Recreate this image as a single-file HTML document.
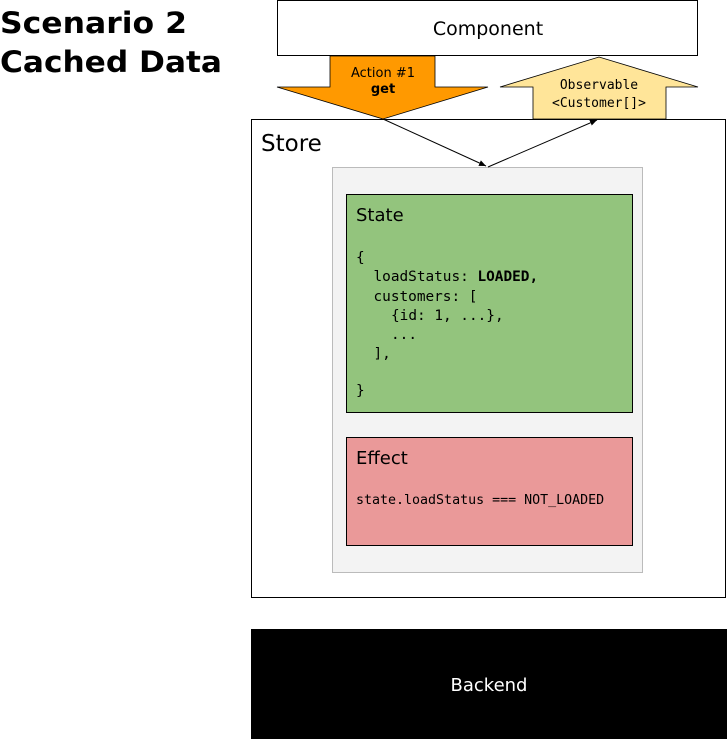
<!DOCTYPE html>
<html><head><style>body{margin:0;background:#fff}</style></head><body>
<svg width="727" height="739" xmlns="http://www.w3.org/2000/svg" style="display:block">
<defs><marker id="a" markerWidth="8" markerHeight="8" refX="7" refY="3" orient="auto" markerUnits="userSpaceOnUse"><path d="M0,0 L7,3 L0,6 z" fill="#000"/></marker></defs>
<g font-family="DejaVu Sans, Liberation Sans, sans-serif">
<text x="0" y="33" font-size="29" font-weight="bold" textLength="187" lengthAdjust="spacingAndGlyphs">Scenario 2</text>
<text x="0" y="72" font-size="29" font-weight="bold" textLength="222" lengthAdjust="spacingAndGlyphs">Cached Data</text>
<rect x="277.5" y="0.5" width="420" height="55" fill="#fff" stroke="#000"/>
<text x="488" y="35" font-size="19" text-anchor="middle">Component</text>
<rect x="251.5" y="119.5" width="474" height="478" fill="#fff" stroke="#000"/>
<text x="261" y="151" font-size="23">Store</text>
<path d="M330,56 H435 V87 H488 L383,119 L277,87 H330 Z" fill="#f90" stroke="#000" stroke-width="0.8"/>
<text x="383" y="77" font-size="13" text-anchor="middle">Action #1</text>
<text x="383" y="93" font-size="13" font-weight="bold" text-anchor="middle">get</text>
<path d="M533,119 V87 H500 L599,57 L698,87 H666 V119 Z" fill="#ffe599" stroke="#000" stroke-width="0.8"/>
<text x="599" y="89" font-size="13" font-family="DejaVu Sans Mono, Liberation Mono, monospace" text-anchor="middle">Observable</text>
<text x="599" y="107" font-size="13" font-family="DejaVu Sans Mono, Liberation Mono, monospace" text-anchor="middle">&lt;Customer[]&gt;</text>
<rect x="332.5" y="167.5" width="310" height="405" fill="#f3f3f3" stroke="#bbb"/>
<line x1="383" y1="119" x2="486" y2="166" stroke="#000" marker-end="url(#a)"/>
<line x1="488" y1="167" x2="597" y2="120" stroke="#000" marker-end="url(#a)"/>
<rect x="346.5" y="194.5" width="286" height="218" fill="#93c47d" stroke="#000"/>
<text x="356" y="221" font-size="18">State</text>
<g font-family="DejaVu Sans Mono, Liberation Mono, monospace" font-size="14.4">
<text x="356" y="262">{</text>
<text x="373.5" y="281">loadStatus: <tspan font-weight="bold">LOADED,</tspan></text>
<text x="373.5" y="301">customers: [</text>
<text x="391" y="320">{id: 1, ...},</text>
<text x="391" y="339">...</text>
<text x="373.5" y="358">],</text>
<text x="356" y="395">}</text>
</g>
<rect x="346.5" y="437.5" width="286" height="108" fill="#ea9999" stroke="#000"/>
<text x="356" y="464" font-size="18">Effect</text>
<text x="356" y="504" font-size="13.3" font-family="DejaVu Sans Mono, Liberation Mono, monospace">state.loadStatus === NOT_LOADED</text>
<rect x="251" y="629" width="476" height="110" fill="#000"/>
<text x="489" y="691" font-size="18" fill="#fff" text-anchor="middle">Backend</text>
</g>
</svg>
</body></html>
